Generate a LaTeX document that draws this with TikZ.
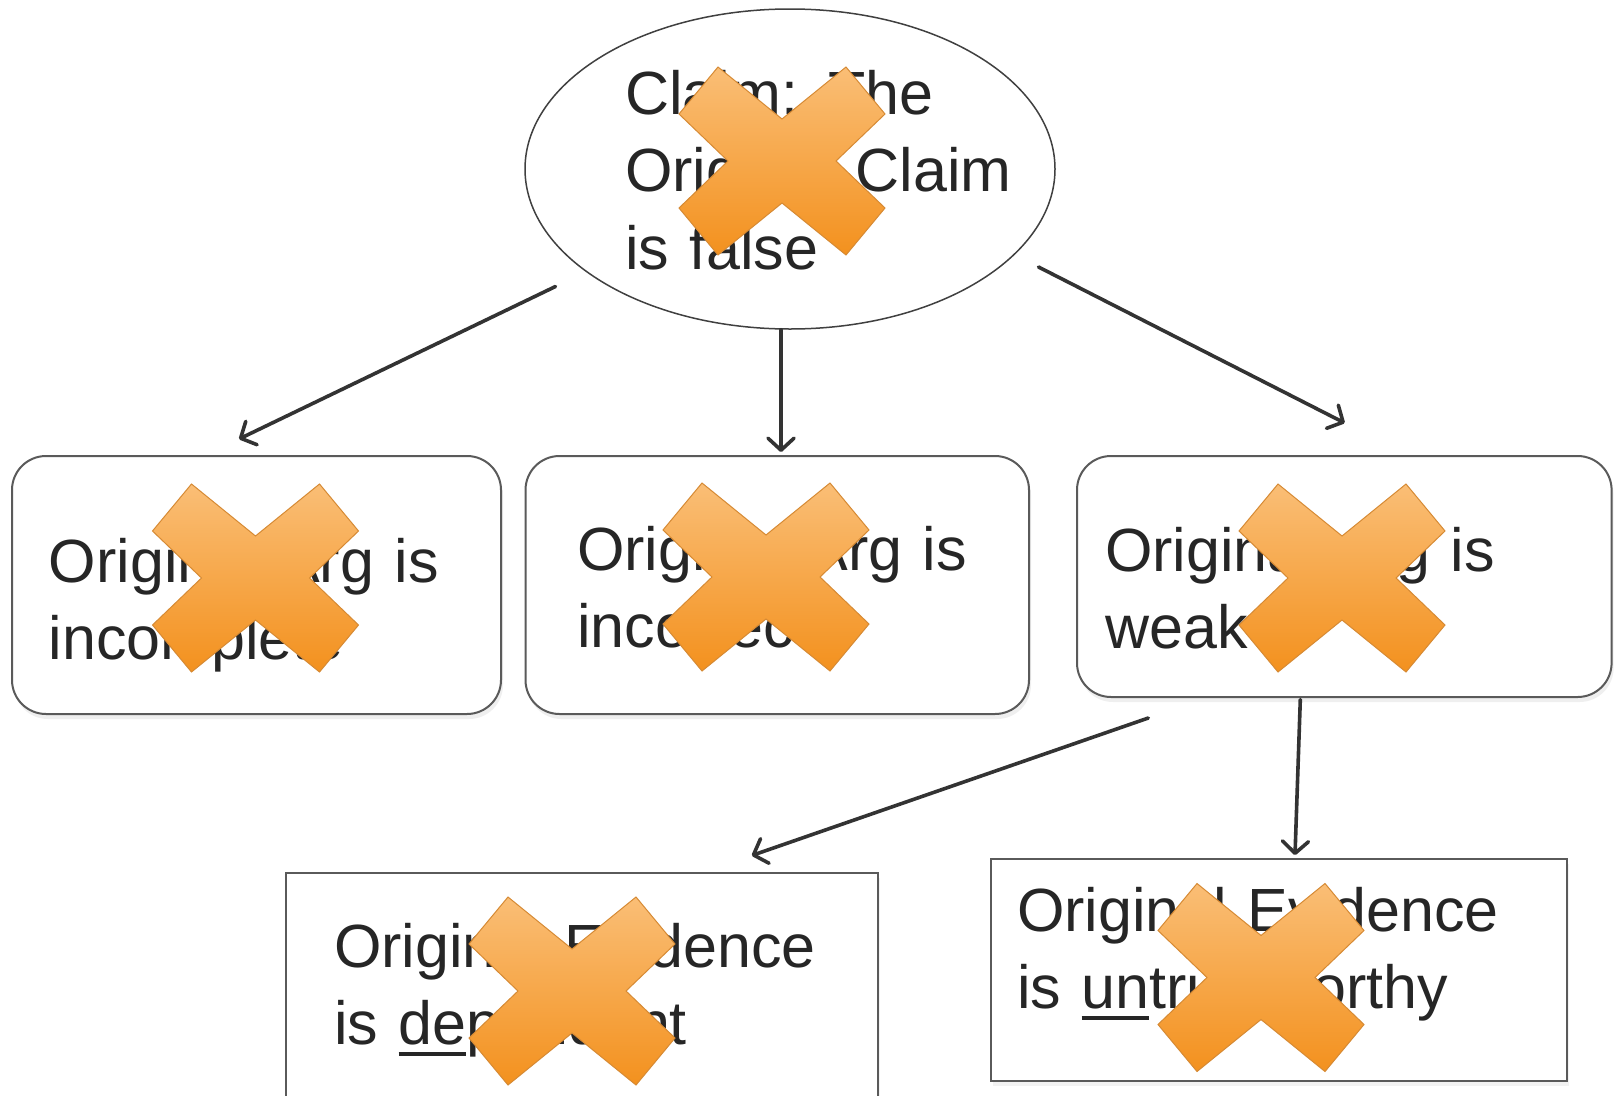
\documentclass[tikz,border=0pt]{standalone}
\usepackage{fontspec}
\setmainfont{Liberation Sans}
\usetikzlibrary{shapes.geometric,arrows.meta,calc,shadows}
\definecolor{txt}{HTML}{262626}
\definecolor{edge}{HTML}{5A5A5A}
\definecolor{arrowc}{HTML}{333333}
\definecolor{xtop}{RGB}{250,190,118}
\definecolor{xbot}{RGB}{243,145,30}
\definecolor{xline}{RGB}{214,138,52}
\newsavebox\ulbox
\newcommand\myul[1]{\sbox\ulbox{#1}\rlap{\rule[-11pt]{\wd\ulbox}{3.5pt}}\usebox\ulbox}
\tikzset{
  rbox/.style={draw=edge, line width=2pt, fill=white, rounded corners=34pt, inner sep=0pt,
    drop shadow={opacity=0.12, shadow xshift=2pt, shadow yshift=-5pt}},
  sbox/.style={draw=edge, line width=2pt, fill=white, rounded corners=0pt, inner sep=0pt,
    drop shadow={opacity=0.10, shadow xshift=2pt, shadow yshift=-5pt}},
  lbl/.style={anchor=base west, inner sep=0pt, text width=560pt, align=left, text=txt,
    font=\fontsize{61}{77.5}\selectfont},
  arr/.style={draw=arrowc, line width=3.6pt, line cap=round,
    -{Straight Barb[length=12pt,width=26pt,line width=3.6pt,round]}},
  xmark/.pic={
    \shadedraw[top color=xtop, bottom color=xbot, draw=xline, line width=1pt, line join=miter]
      (-64,-94) -- (0,-42) -- (64,-94) -- (103,-47) -- (54,0) -- (103,47) -- (64,94)
      -- (0,42) -- (-64,94) -- (-103,47) -- (-54,0) -- (-103,-47) -- cycle;
  }
}
\begin{document}
\begin{tikzpicture}[x=1pt,y=-1pt]
\useasboundingbox[fill=white] (0,0) rectangle (1622,1095);

% shapes
\node[ellipse, draw=black!75, line width=1.5pt, fill=white, minimum width=530pt, minimum height=320pt, inner sep=0pt] (claim) at (790,169) {};
\node[rbox, minimum width=489pt, minimum height=258pt] (b1) at (256.5,585) {};
\node[rbox, minimum width=503.5pt, minimum height=258pt] (b2) at (777.25,585) {};
\node[rbox, minimum width=534.6pt, minimum height=241pt] (b3) at (1344.3,576.5) {};
\node[sbox, minimum width=592.5pt, minimum height=260pt] (b4) at (581.75,1003) {};
\node[sbox, minimum width=576pt, minimum height=222.4pt] (b5) at (1279,969.8) {};

% texts
\node[lbl] (tclaim) at (625,114) {Claim: The\\Original Claim\\is false};
\node[lbl] (t1) at (48.6,582) {Original Arg is\\incomplete};
\node[lbl] (t2) at (577,570) {Original Arg is\\incorrect};
\node[lbl] (t3) at (1105,571) {Original Arg is\\weak};
\node[lbl] (t4) at (334,967) {Original Evidence\\is \myul{de}pendent};
\node[lbl] (t5) at (1017,931) {Original Evidence\\is \myul{un}trustworthy};

% crosses
\pic at (782,161) {xmark};
\pic at (255.5,578) {xmark};
\pic at (766,577) {xmark};
\pic at (1342,578) {xmark};
\pic at (572,991) {xmark};
\pic at (1261,977.5) {xmark};

% connectors
\coordinate (s1) at ($(claim.center)+(-234.5,117.5)$);
\coordinate (e1) at ($(b1.north)+(-17.5,-16)$);
\coordinate (s2) at ($(claim.south)+(-9,0)$);
\coordinate (e2) at ($(b2.north)+(3.75,-3)$);
\coordinate (s3) at ($(claim.center)+(248.5,98)$);
\coordinate (e3) at ($(b3.north)+(0.4,-32)$);
\coordinate (s4) at ($(b3.south)+(-196,20)$);
\coordinate (e4) at ($(b4.north)+(170,-16.5)$);
\coordinate (s5) at ($(b3.south)+(-44,1.5)$);
\coordinate (e5) at ($(b5.north)+(16,-2.5)$);
\draw[arr] (s1) -- (e1);
\draw[arr] (s2) -- (e2);
\draw[arr] (s3) -- (e3);
\draw[arr] (s4) -- (e4);
\draw[arr] (s5) -- (e5);
\end{tikzpicture}
\end{document}
